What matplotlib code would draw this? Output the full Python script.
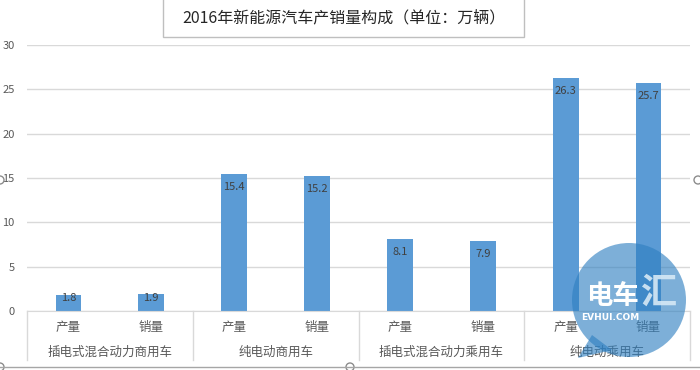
import matplotlib
matplotlib.use('Agg')
import matplotlib.pyplot as plt
from matplotlib.patches import Rectangle, Circle, Polygon
from matplotlib.lines import Line2D
from matplotlib.transforms import IdentityTransform

plt.rcParams['font.family'] = ['Noto Sans CJK SC', 'DejaVu Sans']

groups = ['插电式混合动力商用车', '纯电动商用车', '插电式混合动力乘用车', '纯电动乘用车']
sub_labels = ['产量', '销量']
production = [1.8, 15.4, 8.1, 26.3]
sales = [1.9, 15.2, 7.9, 25.7]
title = '2016年新能源汽车产销量构成（单位：万辆）'
yticks = [0, 5, 10, 15, 20, 25, 30]

W, H = 700, 370
fig = plt.figure(figsize=(7, 3.7), dpi=100)
ax_l, ax_r, ax_t, ax_b = 27, 690, 45, 311
ax = fig.add_axes([ax_l / W, (H - ax_b) / H, (ax_r - ax_l) / W, (ax_b - ax_t) / H])

values = []
for p, s in zip(production, sales):
    values += [p, s]
xs = list(range(len(values)))
bars = ax.bar(xs, values, width=0.31, color='#5B9BD5', zorder=2)
ax.set_xlim(-0.5, len(values) - 0.5)
ax.set_ylim(0, 30)
ax.set_yticks(yticks)
ax.grid(axis='y', color='#D9D9D9', lw=1, zorder=0)
ax.set_axisbelow(True)
for s in ['top', 'right', 'left']:
    ax.spines[s].set_visible(False)
ax.spines['bottom'].set_color('#D9D9D9')
ax.tick_params(axis='y', length=0, pad=9, labelsize=8, labelcolor='#595959')
ax.tick_params(axis='x', length=0, labelbottom=False)

px_per_unit = (ax_b - ax_t) / 30.0
for b, v in zip(bars, values):
    h_px = v * px_per_unit
    off_px = min(13, h_px - 13)
    ax.annotate(f'{v}', (b.get_x() + b.get_width() / 2, v),
                xytext=(0, -off_px * 0.72), textcoords='offset points',
                ha='center', va='center', fontsize=8, color='#404040', zorder=3)

# two-level category axis
sep_depth = -(360 - ax_b) / (ax_b - ax_t)
trans = ax.get_xaxis_transform()
for g in range(len(groups) + 1):
    xg = -0.5 + 2 * g
    ax.add_line(Line2D([xg, xg], [0, sep_depth], transform=trans, color='#D9D9D9',
                       lw=1, clip_on=False))
y_sub = -(327 - ax_b) / (ax_b - ax_t)
y_grp = -(352 - ax_b) / (ax_b - ax_t)
for i, x in enumerate(xs):
    ax.text(x, y_sub, sub_labels[i % 2], transform=trans, ha='center', va='center',
            fontsize=9, color='#595959')
for g, name in enumerate(groups):
    ax.text(0.5 + 2 * g, y_grp, name, transform=trans, ha='center', va='center',
            fontsize=9, color='#595959')

# title box
fig.patches.append(Rectangle((163 / W, 1 - 37 / H), (524 - 163) / W, 40 / H,
                             transform=fig.transFigure, facecolor='white',
                             edgecolor='#BFBFBF', lw=1))
fig.text((163 + 524) / 2 / W, 1 - 18 / H, title, ha='center', va='center',
         fontsize=11.5, color='#262626')

# chart frame bottom line and handles
fig.add_artist(Line2D([0, 1], [1 - 367 / H, 1 - 367 / H], transform=fig.transFigure,
                      color='#A6A6A6', lw=1))
for (hx, hy) in [(0, 180), (698, 180), (350, 367), (0, 367)]:
    fig.patches.append(Circle((hx, H - hy), 4, transform=IdentityTransform(),
                              facecolor='white', edgecolor='#8C8C8C', lw=1))

# watermark
wm = '#2E7FC0'
fig.patches.append(Circle((629, H - 300), 57, transform=IdentityTransform(),
                          facecolor=wm, alpha=0.62, edgecolor='none'))
fig.patches.append(Polygon([(592, H - 335), (578, H - 358), (612, H - 350)],
                           closed=True, transform=IdentityTransform(),
                           facecolor=wm, alpha=0.62, edgecolor='none'))
fig.text(612 / W, 1 - 296 / H, '电车', ha='center', va='center', fontsize=19,
         fontweight='bold', color='white')
fig.text(658 / W, 1 - 293 / H, '汇', ha='center', va='center', fontsize=26,
         fontweight='bold', color='#D6E8F5', alpha=0.9)
fig.text(610 / W, 1 - 318 / H, 'EVHUI.COM', ha='center', va='center', fontsize=6.5,
         fontweight='bold', color='white', family='DejaVu Sans')

fig.savefig('out.png', dpi=100)
